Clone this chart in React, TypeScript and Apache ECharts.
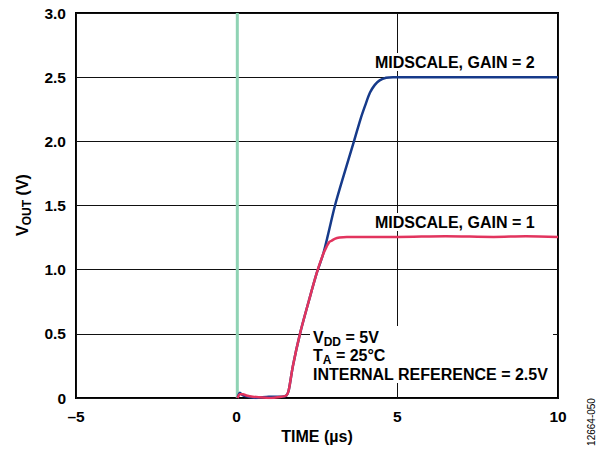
import React, { useEffect, useRef } from "react";
import * as echarts from "echarts";

const xTicks = [-5, 0, 5, 10];
const yTicks = [0, 0.5, 1.0, 1.5, 2.0, 2.5, 3.0];

const gain2Time = [0.03, 0.1, 0.2, 0.35, 0.6, 1.0, 1.4, 1.55, 1.62, 1.75, 1.97, 2.25, 2.5, 2.69, 2.85, 3.06, 3.35, 3.65, 3.85, 4.0, 4.15, 4.3, 4.45, 4.65, 4.87, 6.0, 8.0, 10.0];
const gain2Vout = [0.0, 0.04, 0.02, 0.01, 0.0, 0.01, 0.01, 0.02, 0.06, 0.25, 0.5, 0.76, 0.98, 1.12, 1.28, 1.5, 1.75, 2.0, 2.17, 2.28, 2.38, 2.44, 2.475, 2.495, 2.5, 2.5, 2.5, 2.5];

const gain1Time = [0.03, 0.1, 0.2, 0.3, 0.5, 1.0, 1.4, 1.55, 1.62, 1.75, 1.97, 2.25, 2.5, 2.69, 2.8, 2.88, 2.95, 3.05, 3.2, 3.43, 4.0, 5.0, 6.5, 8.0, 9.0, 10.0];
const gain1Vout = [0.0, 0.03, 0.03, 0.02, 0.01, 0.0, 0.01, 0.02, 0.06, 0.25, 0.5, 0.76, 0.98, 1.12, 1.18, 1.215, 1.225, 1.24, 1.25, 1.255, 1.255, 1.255, 1.26, 1.255, 1.26, 1.255];

const triggerTime = [0.02, 0.02];
const triggerVout = [0, 3];

const zip = (xs: number[], ys: number[]) => xs.map((x, i) => [x, ys[i]]);

const FONT = "Liberation Sans, Arial, sans-serif";
const FS = 16;

export default function App() {
  const ref = useRef<HTMLDivElement>(null);
  useEffect(() => {
    if (!ref.current) return;
    const chart = echarts.init(ref.current, undefined, { renderer: "svg" });
    const boldText = { fontFamily: FONT, fontWeight: "bold" as const, fontSize: FS, fill: "#000" };
    const richSub = {
      m: { fontFamily: FONT, fontWeight: "bold", fontSize: FS, fill: "#000", lineHeight: 20 },
      s: { fontFamily: FONT, fontWeight: "bold", fontSize: 12, fill: "#000", lineHeight: 20, padding: [9, 0, 0, 0] },
    };
    chart.setOption({
      animation: false,
      backgroundColor: "#fff",
      grid: { left: 76, right: 50, top: 13, bottom: 52, show: true, borderColor: "#000", borderWidth: 2, backgroundColor: "transparent" },
      xAxis: {
        type: "value",
        min: xTicks[0],
        max: xTicks[xTicks.length - 1],
        interval: 5,
        axisLine: { show: false },
        axisTick: { show: false },
        splitLine: { show: true, lineStyle: { color: "#111", width: 1 } },
        axisLabel: {
          margin: 10,
          fontFamily: FONT,
          fontWeight: "bold",
          fontSize: 15.5,
          color: "#000",
          formatter: (v: number) => (v < 0 ? "\u2013" + Math.abs(v) : String(v)),
        },
        name: "TIME (µs)",
        nameLocation: "middle",
        nameGap: 29,
        nameTextStyle: { fontFamily: FONT, fontWeight: "bold", fontSize: FS, color: "#000" },
      },
      yAxis: {
        type: "value",
        min: yTicks[0],
        max: yTicks[yTicks.length - 1],
        interval: 0.5,
        axisLine: { show: false },
        axisTick: { show: false },
        splitLine: { show: true, lineStyle: { color: "#111", width: 1 } },
        axisLabel: {
          margin: 10,
          fontFamily: FONT,
          fontWeight: "bold",
          fontSize: 15.5,
          color: "#000",
          formatter: (v: number) => (v === 0 ? "0" : v.toFixed(1)),
        },
      },
      graphic: [
        {
          type: "text",
          x: 22,
          y: 205,
          rotation: Math.PI / 2,
          z: 100,
          style: {
            text: "{m|V}{s|OUT}{m| (V)}",
            align: "center",
            verticalAlign: "middle",
            rich: richSub,
          },
        },
        {
          type: "rect",
          z: 90,
          shape: { x: 310, y: 326, width: 243, height: 57 },
          style: { fill: "#fff" },
        },
        {
          type: "text",
          x: 313,
          y: 337,
          z: 100,
          style: { text: "{m|V}{s|DD}{m| = 5V}", verticalAlign: "middle", rich: richSub },
        },
        {
          type: "text",
          x: 313,
          y: 355,
          z: 100,
          style: { text: "{m|T}{s|A}{m| = 25°C}", verticalAlign: "middle", rich: richSub },
        },
        {
          type: "text",
          x: 313,
          y: 374,
          z: 100,
          style: { ...boldText, text: "INTERNAL REFERENCE = 2.5V", verticalAlign: "middle" },
        },
        {
          type: "text",
          x: 373,
          y: 62,
          z: 100,
          style: { ...boldText, text: "MIDSCALE, GAIN = 2", verticalAlign: "middle", backgroundColor: "#fff", padding: [1, 2, 1, 2] },
        },
        {
          type: "text",
          x: 373,
          y: 222,
          z: 100,
          style: { ...boldText, text: "MIDSCALE, GAIN = 1", verticalAlign: "middle", backgroundColor: "#fff", padding: [1, 2, 1, 2] },
        },
        {
          type: "text",
          x: 591,
          y: 422,
          rotation: Math.PI / 2,
          z: 100,
          style: { text: "12664-050", fontFamily: FONT, fontSize: 10, fill: "#000", align: "center", verticalAlign: "middle" },
        },
      ],
      series: [
        {
          type: "line",
          data: zip(triggerTime, triggerVout),
          showSymbol: false,
          lineStyle: { color: "#8fd3b4", width: 3 },
          z: 2,
        },
        {
          type: "line",
          data: zip(gain2Time, gain2Vout),
          showSymbol: false,
          smooth: 0.3,
          lineStyle: { color: "#163a8a", width: 2.5 },
          z: 3,
        },
        {
          type: "line",
          data: zip(gain1Time, gain1Vout),
          showSymbol: false,
          smooth: 0.3,
          lineStyle: { color: "#e2345e", width: 2.5 },
          z: 4,
        },
      ],
    });
    return () => chart.dispose();
  }, []);
  return <div ref={ref} style={{ width: 608, height: 450, position: "absolute", left: 0, top: 0 }} />;
}
